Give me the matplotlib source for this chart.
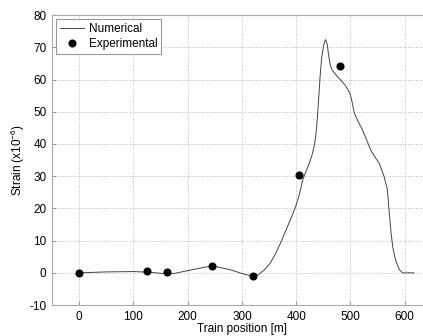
import matplotlib
matplotlib.use('Agg')
import matplotlib.pyplot as plt

# numerical curve
num_x = [0, 50, 100, 130, 160, 175, 200, 245, 280, 300, 321, 330, 341, 352, 362,
         371, 380, 390, 399, 406, 412, 418, 424, 429, 433, 436, 438, 441, 444, 447,
         451, 454, 457, 459, 462, 466, 474, 481, 490, 499, 503, 507, 514, 522, 530,
         537, 545, 553, 562, 568, 571, 575, 578, 583, 590, 596, 617]
num_y = [0, 0.3, 0.4, 0.2, -0.3, -0.2, 0.7, 2.2, 0.9, -0.2, -1.1, -0.6, 0.9, 3.0, 6.0,
         9.2, 12.8, 16.8, 20.6, 24.5, 28.9, 31.5, 34.0, 36.5, 39.2, 42.5, 46.0, 53.0, 61.0, 67.0,
         71.0, 72.4, 71.0, 68.5, 65.0, 63.0, 61.3, 60.0, 58.3, 55.8, 53.0, 49.6, 47.0, 44.4, 41.2,
         38.2, 36.0, 34.0, 29.9, 25.8, 19.6, 12.0, 8.0, 4.0, 1.0, 0, 0]

# experimental points
exp_x = [0, 125, 161, 244, 321, 405, 481]
exp_y = [0, 0.7, 0.4, 2.2, -0.9, 30.4, 64.2]

xticks = [0, 100, 200, 300, 400, 500, 600]
yticks = [-10, 0, 10, 20, 30, 40, 50, 60, 70, 80]

plt.rcParams['font.family'] = ['Liberation Sans', 'DejaVu Sans']
plt.rcParams['font.size'] = 8.5
plt.rcParams['axes.unicode_minus'] = False
plt.rcParams['mathtext.fontset'] = 'custom'
plt.rcParams['mathtext.rm'] = 'Liberation Sans'
plt.rcParams['mathtext.it'] = 'Liberation Sans:italic'
plt.rcParams['mathtext.default'] = 'regular'

fig = plt.figure(figsize=(4.23, 3.36), dpi=100)
ax = fig.add_axes([0.123, 0.092, 0.898, 0.863])

ax.plot(num_x, num_y, color='#444444', linewidth=0.7, label='Numerical')
ax.plot(exp_x, exp_y, 'o', color='black', markersize=4.8, label='Experimental')

ax.set_xlim(-50, 650)
ax.set_ylim(-10, 80)
ax.set_xticks(xticks)
ax.set_yticks(yticks)
ax.grid(True, linestyle=':', color='#bbbbbb', linewidth=0.7)
ax.tick_params(direction='in', length=3, color='#999999', labelsize=8.5, pad=4)
for s in ax.spines.values():
    s.set_color('#aaaaaa')

ax.set_xlabel('Train position [m]', fontsize=8.5, labelpad=0)
ax.set_ylabel('Strain (x10$^{-6}$)', fontsize=8.5)
ax.yaxis.set_label_coords(-0.065, 0.5)

leg = ax.legend(loc='upper left', fancybox=False, framealpha=1, edgecolor='#999999',
                borderaxespad=0.3, handlelength=2.1, handletextpad=0.35,
                borderpad=0.35, labelspacing=0.25)
leg.get_frame().set_linewidth(0.8)

fig.savefig('out.png', dpi=100)
